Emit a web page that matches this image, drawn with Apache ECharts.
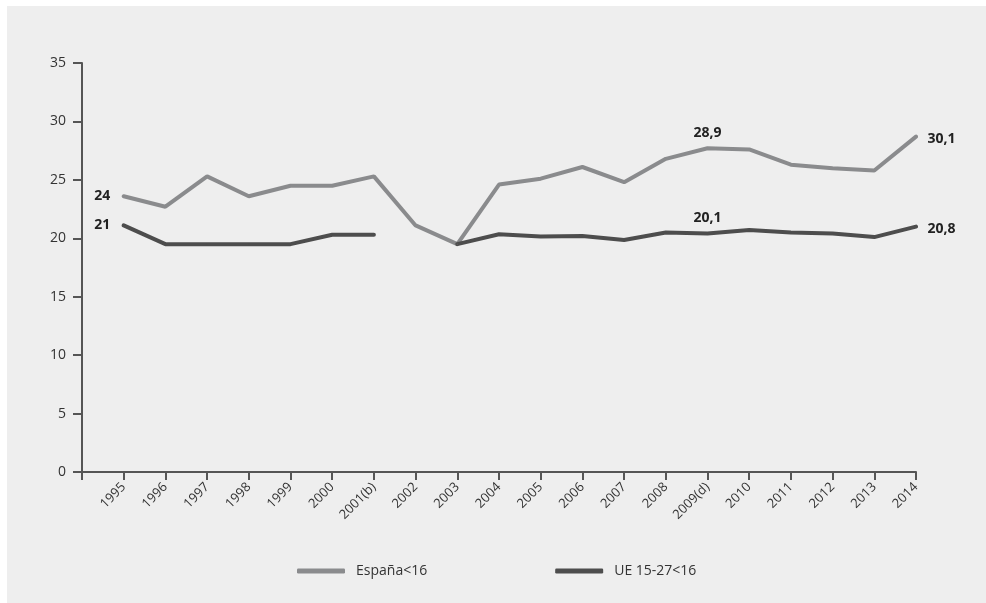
<!DOCTYPE html>
<html>
<head>
<meta charset="utf-8">
<script src="https://cdn.jsdelivr.net/npm/echarts@6/dist/echarts.min.js"></script>
<style>
  html, body { margin: 0; padding: 0; background: #ffffff; }
  #main { position: absolute; left: 7px; top: 6px; width: 979px; height: 597px; background: #eeeeee; }
</style>
</head>
<body>
<div id="main"></div>
<script>
// categories (first one is an empty slot before 1995)
const years = ['', '1995', '1996', '1997', '1998', '1999', '2000', '2001(b)', '2002', '2003', '2004',
  '2005', '2006', '2007', '2008', '2009(d)', '2010', '2011', '2012', '2013', '2014'];
const espana = [null, 23.6, 22.7, 25.3, 23.6, 24.5, 24.5, 25.3, 21.1, 19.5, 24.6,
  25.1, 26.1, 24.8, 26.8, 27.7, 27.6, 26.3, 26.0, 25.8, 28.7];
const ue = [null, 21.1, 19.5, 19.5, 19.5, 19.5, 20.3, 20.3, null, 19.5, 20.35,
  20.15, 20.2, 19.85, 20.5, 20.4, 20.7, 20.5, 20.4, 20.1, 21.0];
// annotation texts [category index, text, position]
const espanaNotes = [[1, '24', 'left'], [15, '28,9', 'top'], [20, '30,1', 'right']];
const ueNotes = [[1, '21', 'left'], [15, '20,1', 'top'], [20, '20,8', 'right']];
const yTicks = [0, 5, 10, 15, 20, 25, 30, 35];

const labelStyle = { fontFamily: 'Open Sans', fontWeight: 'bold', fontSize: 14, color: '#222' };

function withNotes(values, notes) {
  return values.map((v, i) => {
    const n = notes.find(x => x[0] === i);
    if (!n) return v;
    const off = n[2] === 'left' ? [-4, 0] : n[2] === 'right' ? [2, 2] : [0, 1];
    return {
      value: v,
      label: Object.assign({ show: true, position: n[2], formatter: n[1], offset: off, distance: 9 }, labelStyle)
    };
  });
}

const chart = echarts.init(document.getElementById('main'));
chart.setOption({
  animation: false,
  textStyle: { fontFamily: 'Open Sans' },
  grid: { left: 75, right: 70, top: 57, bottom: 131 },
  xAxis: {
    type: 'category',
    data: years,
    boundaryGap: false,
    axisLine: { lineStyle: { color: '#555', width: 2 } },
    axisTick: { show: true, length: 8, lineStyle: { color: '#555', width: 2 } },
    axisLabel: { rotate: 45, fontSize: 13, color: '#333', margin: 13, interval: 0 },
    splitLine: { show: false }
  },
  yAxis: {
    type: 'value',
    min: yTicks[0],
    max: yTicks[yTicks.length - 1],
    interval: 5,
    axisLine: { show: true, lineStyle: { color: '#555', width: 2 } },
    axisTick: { show: true, length: 9, lineStyle: { color: '#555', width: 2 } },
    axisLabel: { fontSize: 14, color: '#333', margin: 16 },
    splitLine: { show: false }
  },
  legend: {
    bottom: 20,
    left: 285,
    itemWidth: 48,
    itemHeight: 5,
    itemGap: 128,
    icon: 'roundRect',
    textStyle: { fontSize: 14, color: '#333', fontFamily: 'Open Sans', padding: [0, 0, 0, 6] },
    data: ['España<16', 'UE 15-27<16']
  },
  series: [
    {
      name: 'España<16',
      type: 'line',
      data: withNotes(espana, espanaNotes),
      symbol: 'circle',
      symbolSize: 1,
      showSymbol: true,
      color: '#8a8b8d',
      lineStyle: { width: 4, color: '#8a8b8d', cap: 'round' }
    },
    {
      name: 'UE 15-27<16',
      type: 'line',
      data: withNotes(ue, ueNotes),
      symbol: 'circle',
      symbolSize: 1,
      showSymbol: true,
      color: '#4d4d4d',
      lineStyle: { width: 4, color: '#4d4d4d', cap: 'round' }
    }
  ]
});
</script>
</body>
</html>
